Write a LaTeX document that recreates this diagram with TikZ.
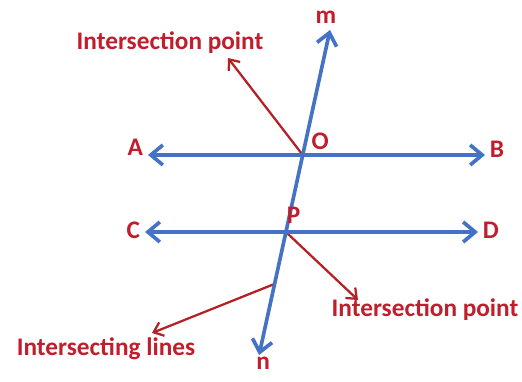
\documentclass[tikz,border=0pt]{standalone}
\usepackage{fontspec}
\setmainfont{Carlito}
\usepackage{tkz-euclide}
\usetikzlibrary{arrows.meta}
\definecolor{LineClr}{RGB}{68,114,196}
\definecolor{LabelClr}{RGB}{192,30,45}
\definecolor{PointerClr}{RGB}{180,32,38}

\begin{document}
\begin{tikzpicture}[
  lbl/.style={text=LabelClr,font=\fontsize{18}{20}\selectfont\bfseries},
  line arrow/.style={{Straight Barb[length=3mm,width=5mm]}-{Straight Barb[length=3mm,width=5mm]}},
  pointer/.style={color=PointerClr,line width=1.6pt,-{Straight Barb[length=2.2mm,width=3.6mm]}}]
\tkzSetUpLine[line width=2.6pt,color=LineClr]
\useasboundingbox (0,0) rectangle (13.05,9.525);

\tkzDefPoints{3.7/5.65/A,12.125/5.65/B,3.625/3.725/C,11.95/3.725/D}
\tkzDefPoints{8.25/8.775/M,6.477/0.65/N}

\tkzInterLL(A,B)(M,N) \tkzGetPoint{O}
\tkzInterLL(C,D)(M,N) \tkzGetPoint{P}
\tkzDefBarycentricPoint(M=7,N=25) \tkzGetPoint{Q}

\tkzDefPoints{5.7/8.075/I1,8.95/2.025/I2,3.8/1.2/I3}

\tkzDrawSegments[pointer](O,I1 P,I2 Q,I3)
\tkzDrawSegments[line arrow](A,B C,D N,M)

\node[lbl,left,yshift=2mm] (lA) at (A) {A};
\node[lbl,right,yshift=1.5mm] (lB) at (B) {B};
\node[lbl,left,yshift=.5mm] (lC) at (C) {C};
\node[lbl,right,yshift=.5mm] (lD) at (D) {D};
\node[lbl,above right,xshift=1mm] (lO) at (O) {O};
\node[lbl,above right,xshift=-1mm,yshift=1mm] (lP) at (P) {P};
\node[lbl,above,xshift=-1mm,yshift=.5mm] (lm) at (M) {m};
\node[lbl,below,xshift=1mm,yshift=.8mm] (ln) at (N) {n};

\node[lbl,above,xshift=-1.45cm] (ip1) at (I1) {Intersection point};
\node[lbl,below,xshift=1.675cm,yshift=1.5mm] (ip2) at (I2) {Intersection point};
\node[lbl,below,xshift=-1.15cm] (il) at (I3) {Intersecting lines};

\end{tikzpicture}
\end{document}
